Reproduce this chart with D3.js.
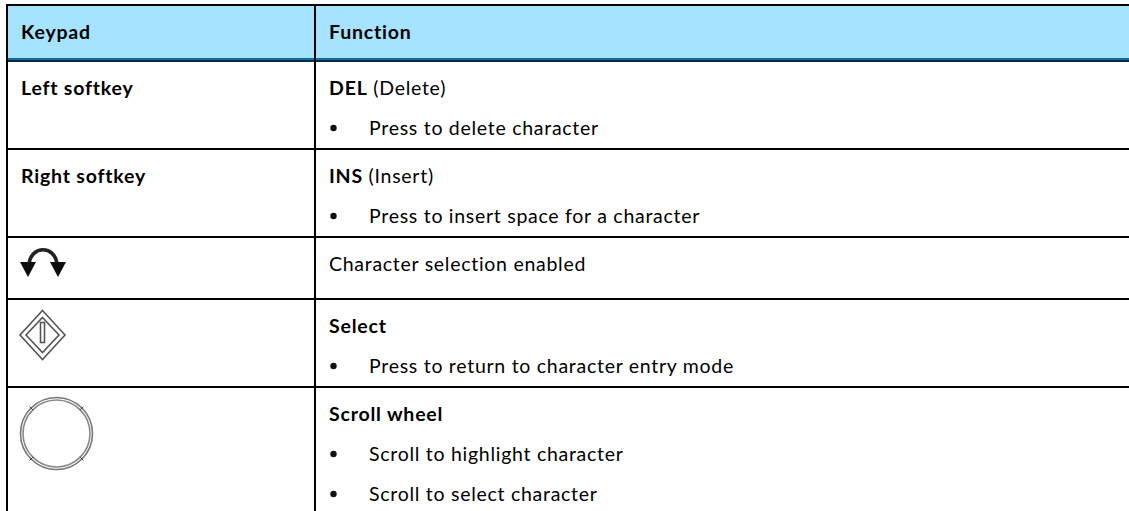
<!DOCTYPE html>
<html>
<head>
<meta charset="utf-8">
<script src="https://cdn.jsdelivr.net/npm/d3@7"></script>
<style>
html, body { margin: 0; padding: 0; background: #fff; }
svg { display: block; }
text { font-family: Lato, "Open Sans", sans-serif; font-size: 19.5px; letter-spacing: 0.72px; fill: #000; }
text.b, tspan.b { font-weight: 700; letter-spacing: 0.8px; }
</style>
</head>
<body>
<svg id="table" width="1129" height="511"></svg>
<script>
// table text
const headers = ["Keypad", "Function"];
const keypadLabels = ["Left softkey", "Right softkey"];
const functionBold = ["DEL", "INS", "", "Select", "Scroll wheel"];
const functionRest = [" (Delete)", " (Insert)", "Character selection enabled", "", ""];
const bulletTexts = [
    "Press to delete character",
    "Press to insert space for a character",
    "Press to return to character entry mode",
    "Scroll to highlight character",
    "Scroll to select character"
];

// layout
const keypadY = [95, 183];
const functionY = [95, 183, 271, 333, 421];
const bulletY = [135, 223, 373, 461, 501];
const rowLineY = [148, 236, 298, 386];
const columnX = [21, 329];

const svg = d3.select("#table");
const x = d3.scaleOrdinal().domain(headers).range(columnX);

function bar(px, py, w, h, fill) {
    svg.append("rect").attr("x", px).attr("y", py).attr("width", w).attr("height", h).attr("fill", fill);
}

bar(7, 5, 1122, 54, "#a6e3ff");
bar(7, 58, 1122, 2, "#0b6ea3");
bar(7, 60, 1122, 2, "#04283f");
bar(6, 4, 1123, 2, "#000");
bar(6, 4, 2, 507, "#000");
bar(314, 4, 2, 507, "#000");
rowLineY.forEach(y => bar(6, y, 1123, 2, "#000"));

svg.selectAll("text.head").data(headers).enter().append("text")
    .attr("class", "head b").attr("x", d => x(d)).attr("y", 39).text(d => d);

svg.selectAll("text.key").data(keypadLabels).enter().append("text")
    .attr("class", "key b").attr("x", columnX[0]).attr("y", (d, i) => keypadY[i]).text(d => d);

const fn = svg.selectAll("text.fn").data(functionBold).enter().append("text")
    .attr("class", "fn").attr("x", columnX[1]).attr("y", (d, i) => functionY[i]);
fn.append("tspan").attr("class", "b").text(d => d);
fn.append("tspan").text((d, i) => functionRest[i]);

svg.selectAll("circle.bullet").data(bulletTexts).enter().append("circle")
    .attr("class", "bullet").attr("cx", 333.5).attr("cy", (d, i) => bulletY[i] - 7).attr("r", 3.2).attr("fill", "#111");
svg.selectAll("text.bl").data(bulletTexts).enter().append("text")
    .attr("class", "bl").attr("x", 369).attr("y", (d, i) => bulletY[i]).text(d => d);

// softened edges, the icons are scaled bitmaps in the original
const defs = svg.append("defs");
defs.append("filter").attr("id", "soft").append("feGaussianBlur").attr("stdDeviation", 0.6);
defs.append("filter").attr("id", "softer").append("feGaussianBlur").attr("stdDeviation", 0.35);

// character selection icon
const arrows = svg.append("g").attr("filter", "url(#soft)");
arrows.append("path").attr("d", "M29,264 C31,245 55,245 57,264")
    .attr("fill", "none").attr("stroke", "#222").attr("stroke-width", 3.6);
arrows.append("path").attr("d", "M20,262 L36,262 L28,277 Z").attr("fill", "#111");
arrows.append("path").attr("d", "M50,262 L66,262 L58,277 Z").attr("fill", "#111");

// select icon
const diamond = svg.append("g").attr("fill", "none").attr("stroke", "#555").attr("stroke-width", 1.6).attr("filter", "url(#softer)");
diamond.append("path").attr("d", "M42.5,310.5 L65,335 L42.5,359.5 L20,335 Z");
diamond.append("path").attr("d", "M42.5,317.5 L59,335 L42.5,352.5 L26,335 Z");
diamond.append("rect").attr("x", 40.5).attr("y", 322.5).attr("width", 4).attr("height", 20);

// scroll wheel icon
const wheel = svg.append("g").attr("fill", "none").attr("filter", "url(#softer)");
wheel.append("circle").attr("cx", 56.5).attr("cy", 433.5).attr("r", 36).attr("stroke", "#777").attr("stroke-width", 1.6);
wheel.append("circle").attr("cx", 56.5).attr("cy", 433.5).attr("r", 33.5).attr("stroke", "#888").attr("stroke-width", 1.6);
[45, 135, 225, 315].forEach(a => {
    const r = a * Math.PI / 180;
    wheel.append("line")
        .attr("x1", 56.5 + 33 * Math.cos(r)).attr("y1", 433.5 + 33 * Math.sin(r))
        .attr("x2", 56.5 + 38 * Math.cos(r)).attr("y2", 433.5 + 38 * Math.sin(r))
        .attr("stroke", "#333").attr("stroke-width", 1);
});
</script>
</body>
</html>
